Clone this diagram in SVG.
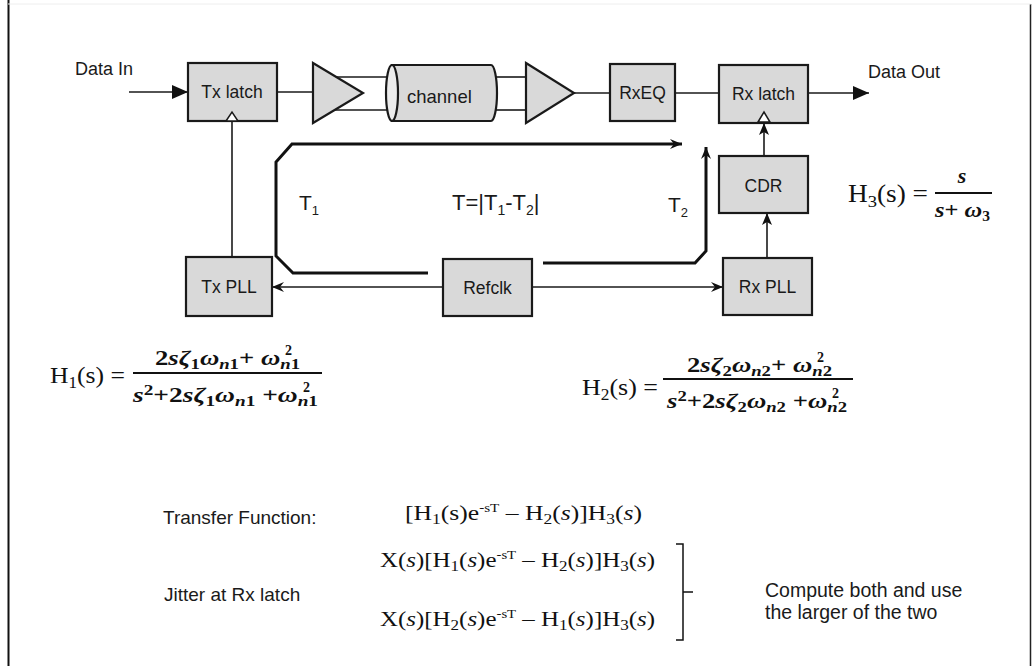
<svg xmlns="http://www.w3.org/2000/svg" width="1032" height="666" viewBox="0 0 1032 666">
<style>
.box{fill:#d9d9d9;stroke:#1a1a1a;stroke-width:2.2}
.lbl{font-family:"Liberation Sans",Arial,sans-serif;font-size:17.5px;fill:#1a1a1a}
.c{text-anchor:middle}
.wire{stroke:#1a1a1a;stroke-width:1.6;fill:none}
.bus{stroke:#111;stroke-width:3;fill:none}
.m{font-family:"Liberation Serif","Times New Roman",serif;fill:#111}
.mf{font-family:"Liberation Serif","Times New Roman",serif;fill:#111;font-size:20px;font-weight:bold}
.i{font-style:italic}
.sb{font-size:14px}
.clk{fill:#fff;stroke:#1a1a1a;stroke-width:1.5}
</style>
<defs>
<marker id="ahBig" viewBox="0 0 16 14" refX="16" refY="7" markerWidth="16" markerHeight="14" markerUnits="userSpaceOnUse" orient="auto"><path d="M0,0 L16,7 L0,14 z" fill="#111"/></marker>
<marker id="ah" viewBox="0 0 12 10" refX="12" refY="5" markerWidth="12" markerHeight="10" markerUnits="userSpaceOnUse" orient="auto"><path d="M0,0 L12,5 L0,10 L3,5 z" fill="#111"/></marker>
<marker id="ahs" viewBox="0 0 12 10" refX="12" refY="5" markerWidth="12" markerHeight="10" markerUnits="userSpaceOnUse" orient="auto"><path d="M0,0 L12,5 L0,10 L4,5 z" fill="#111"/></marker>
</defs>
<rect width="1032" height="666" fill="#fff"/>
<g id="frame">
<line x1="8.5" y1="0" x2="8.5" y2="666" stroke="#111" stroke-width="2"/>
<line x1="1030.5" y1="4" x2="1030.5" y2="666" stroke="#222" stroke-width="1.5"/>
<line x1="8" y1="4" x2="1031" y2="4" stroke="#eee" stroke-width="1"/>
</g>
<g id="connectors">
<line class="wire" x1="129" y1="92" x2="188" y2="92" stroke-width="2" marker-end="url(#ahBig)"/>
<line class="wire" x1="277" y1="92" x2="313" y2="92"/>
<line class="wire" x1="336" y1="77" x2="388" y2="77"/>
<line class="wire" x1="335" y1="110" x2="388" y2="110"/>
<line class="wire" x1="496" y1="77" x2="526" y2="77"/>
<line class="wire" x1="496" y1="110" x2="526" y2="110"/>
<line class="wire" x1="574" y1="93" x2="610" y2="93"/>
<line class="wire" x1="675" y1="93" x2="719" y2="93"/>
<line class="wire" x1="808" y1="93" x2="869" y2="93" stroke-width="2" marker-end="url(#ahBig)"/>
<line class="wire" x1="232" y1="121" x2="232" y2="257"/>
<line class="wire" x1="764" y1="156" x2="764" y2="123" stroke-width="2" marker-end="url(#ah)"/>
<line class="wire" x1="767" y1="258" x2="767" y2="213" stroke-width="2" marker-end="url(#ah)"/>
<line class="wire" x1="443" y1="287" x2="272" y2="287" stroke-width="2.4" marker-end="url(#ahs)"/>
<line class="wire" x1="532" y1="287" x2="723" y2="287" stroke-width="2.4" marker-end="url(#ahs)"/>
<path class="bus" d="M428,273 H293 L276,256 V162 L292,144 H682" marker-end="url(#ahs)"/>
<path class="bus" d="M543,263 H695 L706,251 V147" marker-end="url(#ahs)"/>
</g>
<g id="tx-latch">
<rect class="box" x="188" y="63" width="89" height="58"/>
<text class="lbl c" x="232" y="98">Tx latch</text>
<polygon class="clk" points="226,121 232,112 238,121"/>
</g>
<g id="tx-driver">
<polygon class="box" points="313,63 363,93 313,123"/>
</g>
<g id="channel">
<path class="box" d="M392,65 H491 A6,28 0 0 1 491,121 H392 z"/>
<ellipse cx="392" cy="93" rx="6" ry="28" fill="#ececec" stroke="#1a1a1a" stroke-width="2.2"/>
<text class="lbl" x="407" y="103" style="font-size:18.5px">channel</text>
</g>
<g id="rx-amp">
<polygon class="box" points="526,63 574,93 526,123"/>
</g>
<g id="rxeq">
<rect class="box" x="610" y="64" width="65" height="57"/>
<text class="lbl c" x="642.5" y="99">RxEQ</text>
</g>
<g id="rx-latch">
<rect class="box" x="719" y="65" width="89" height="58"/>
<text class="lbl c" x="763.5" y="100">Rx latch</text>
<polygon class="clk" points="758,122 764,112 770,122"/>
</g>
<g id="cdr">
<rect class="box" x="719" y="156" width="89" height="57"/>
<text class="lbl c" x="763.5" y="192">CDR</text>
</g>
<g id="tx-pll">
<rect class="box" x="186" y="257" width="86" height="59"/>
<text class="lbl c" x="229" y="293">Tx PLL</text>
</g>
<g id="refclk">
<rect class="box" x="443" y="259" width="89" height="57"/>
<text class="lbl c" x="487.5" y="294">Refclk</text>
</g>
<g id="rx-pll">
<rect class="box" x="723" y="258" width="89" height="57"/>
<text class="lbl c" x="767.5" y="293">Rx PLL</text>
</g>
<g id="labels">
<text class="lbl" x="75" y="75" style="font-size:18px">Data In</text>
<text class="lbl" x="868" y="78" style="font-size:18px">Data Out</text>
<text class="lbl" x="299" y="210" style="font-size:21px">T<tspan style="font-size:13px" dy="5">1</tspan></text>
<text class="lbl" x="452" y="210" style="font-size:22px">T=|T<tspan style="font-size:14px" dy="5">1</tspan><tspan dy="-5">-T</tspan><tspan style="font-size:14px" dy="5">2</tspan><tspan dy="-5">|</tspan></text>
<text class="lbl" x="668" y="212" style="font-size:21px">T<tspan style="font-size:13px" dy="5">2</tspan></text>
</g>
<g id="eq-h3">
<text class="m" x="848" y="202" font-size="25" textLength="80" lengthAdjust="spacingAndGlyphs">H<tspan font-size="17" dy="5">3</tspan><tspan dy="-5">(s) =</tspan></text>
<line x1="935" y1="193" x2="992" y2="193" stroke="#111" stroke-width="2"/>
<text class="mf i c" x="962" y="183" style="font-size:22px">s</text>
<text class="mf" x="935" y="217" style="font-size:22px" textLength="55" lengthAdjust="spacingAndGlyphs"><tspan class="i">s</tspan>+ <tspan class="i">ω</tspan><tspan class="sb" dy="4">3</tspan></text>
</g>
<g id="eq-h1">
<text class="m" x="50" y="383" font-size="24" textLength="75" lengthAdjust="spacingAndGlyphs">H<tspan font-size="16" dy="5">1</tspan><tspan dy="-5">(s) =</tspan></text>
<line x1="133" y1="373" x2="322" y2="373" stroke="#111" stroke-width="1.8"/>
<text class="mf" x="155" y="365" textLength="145" lengthAdjust="spacingAndGlyphs">2<tspan class="i">sζ</tspan><tspan class="sb" dy="4">1</tspan><tspan class="i" dy="-4">ω</tspan><tspan class="sb i" dy="4">n</tspan><tspan class="sb">1</tspan><tspan dy="-4">+ </tspan><tspan class="i">ω</tspan><tspan class="sb i" dy="4">n</tspan><tspan class="sb">1</tspan></text>
<text class="mf sb" x="285" y="355">2</text>
<text class="mf" x="133" y="402" textLength="185" lengthAdjust="spacingAndGlyphs"><tspan class="i">s</tspan><tspan class="sb" dy="-7">2</tspan><tspan dy="7">+2</tspan><tspan class="i">sζ</tspan><tspan class="sb" dy="4">1</tspan><tspan class="i" dy="-4">ω</tspan><tspan class="sb i" dy="4">n</tspan><tspan class="sb">1</tspan><tspan dy="-4"> +</tspan><tspan class="i">ω</tspan><tspan class="sb i" dy="4">n</tspan><tspan class="sb">1</tspan></text>
<text class="mf sb" x="303" y="392">2</text>
</g>
<g id="eq-h2">
<text class="m" x="582" y="395" font-size="24" textLength="76" lengthAdjust="spacingAndGlyphs">H<tspan font-size="16" dy="5">2</tspan><tspan dy="-5">(s) =</tspan></text>
<line x1="663" y1="379" x2="853" y2="379" stroke="#111" stroke-width="1.8"/>
<text class="mf" x="687" y="372" textLength="145" lengthAdjust="spacingAndGlyphs">2<tspan class="i">sζ</tspan><tspan class="sb" dy="4">2</tspan><tspan class="i" dy="-4">ω</tspan><tspan class="sb i" dy="4">n</tspan><tspan class="sb">2</tspan><tspan dy="-4">+ </tspan><tspan class="i">ω</tspan><tspan class="sb i" dy="4">n</tspan><tspan class="sb">2</tspan></text>
<text class="mf sb" x="817" y="362">2</text>
<text class="mf" x="667" y="408" textLength="180" lengthAdjust="spacingAndGlyphs"><tspan class="i">s</tspan><tspan class="sb" dy="-7">2</tspan><tspan dy="7">+2</tspan><tspan class="i">sζ</tspan><tspan class="sb" dy="4">2</tspan><tspan class="i" dy="-4">ω</tspan><tspan class="sb i" dy="4">n</tspan><tspan class="sb">2</tspan><tspan dy="-4"> +</tspan><tspan class="i">ω</tspan><tspan class="sb i" dy="4">n</tspan><tspan class="sb">2</tspan></text>
<text class="mf sb" x="832" y="398">2</text>
</g>
<g id="transfer">
<text class="lbl" x="163" y="524" style="font-size:19px">Transfer Function:</text>
<text class="m" x="405" y="520" font-size="22" textLength="237" lengthAdjust="spacingAndGlyphs">[H<tspan font-size="15" dy="4">1</tspan><tspan dy="-4">(s)e</tspan><tspan font-size="13" dy="-8">-sT</tspan><tspan dy="8"> – H</tspan><tspan font-size="15" dy="4">2</tspan><tspan dy="-4">(</tspan><tspan class="i">s</tspan>)]H<tspan font-size="15" dy="4">3</tspan><tspan dy="-4">(</tspan><tspan class="i">s</tspan>)</text>
</g>
<g id="jitter">
<text class="lbl" x="164" y="601" style="font-size:19px">Jitter at Rx latch</text>
<text class="m" x="380" y="567" font-size="22" textLength="275" lengthAdjust="spacingAndGlyphs">X(<tspan class="i">s</tspan>)[H<tspan font-size="15" dy="4">1</tspan><tspan dy="-4">(</tspan><tspan class="i">s</tspan>)e<tspan font-size="13" dy="-8">-sT</tspan><tspan dy="8"> – H</tspan><tspan font-size="15" dy="4">2</tspan><tspan dy="-4">(</tspan><tspan class="i">s</tspan>)]H<tspan font-size="15" dy="4">3</tspan><tspan dy="-4">(</tspan><tspan class="i">s</tspan>)</text>
<text class="m" x="380" y="626" font-size="22" textLength="275" lengthAdjust="spacingAndGlyphs">X(<tspan class="i">s</tspan>)[H<tspan font-size="15" dy="4">2</tspan><tspan dy="-4">(</tspan><tspan class="i">s</tspan>)e<tspan font-size="13" dy="-8">-sT</tspan><tspan dy="8"> – H</tspan><tspan font-size="15" dy="4">1</tspan><tspan dy="-4">(</tspan><tspan class="i">s</tspan>)]H<tspan font-size="15" dy="4">3</tspan><tspan dy="-4">(</tspan><tspan class="i">s</tspan>)</text>
<path d="M676,544 H683 V640 H676 M683,592 H693" fill="none" stroke="#111" stroke-width="1.5"/>
<text class="lbl" x="765" y="597" style="font-size:19.5px">Compute both and use</text>
<text class="lbl" x="765" y="619" style="font-size:19.5px">the larger of the two</text>
</g>
</svg>
